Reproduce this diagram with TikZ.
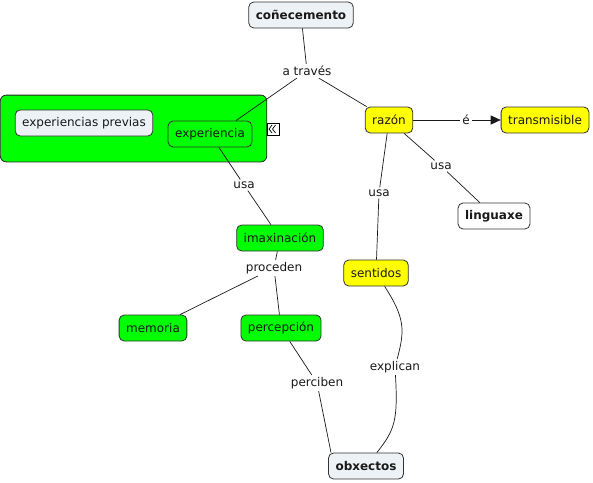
\documentclass[tikz,border=0pt]{standalone}
\usepackage{fontspec}
\setmainfont{DejaVu Sans}
\usetikzlibrary{arrows.meta,fit,backgrounds}

\definecolor{cmapgreen}{RGB}{0,255,0}
\definecolor{cmapyellow}{RGB}{255,255,0}
\definecolor{cmapgrey}{RGB}{236,242,245}

\tikzset{
  concept/.style={draw=black!80, line width=0.8pt, rounded corners=5pt, minimum height=26pt,
    inner xsep=7pt, font=\fontsize{12}{14}\selectfont, text=black!90},
  greenc/.style={concept, fill=cmapgreen},
  yellowc/.style={concept, fill=cmapyellow},
  greyc/.style={concept, fill=cmapgrey},
  whitec/.style={concept, fill=white},
  boldc/.style={font=\fontsize{12}{14}\selectfont\bfseries},
  linkl/.style={fill=white, inner sep=2pt, font=\fontsize{12}{14}\selectfont, text=black!90},
  conn/.style={draw=black!90, line width=0.7pt}
}

\begin{document}
\begin{tikzpicture}[x=1pt, y=-1pt]
  \useasboundingbox (0,0) rectangle (593,482);

  % concepts
  \node[greyc, boldc] (conecemento) at (301,15) {coñecemento};
  \node[greyc] (expprevias) at (84,123) {experiencias previas};
  \node[greenc] (experiencia) at (210,134) {experiencia};
  \node[yellowc] (razon) at (389,120) {razón};
  \node[yellowc] (transmisible) at (545,120) {transmisible};
  \node[whitec, boldc] (linguaxe) at (494,216) {linguaxe};
  \node[greenc] (imaxinacion) at (280,238) {imaxinación};
  \node[yellowc] (sentidos) at (376,273) {sentidos};
  \node[greenc] (memoria) at (153,328) {memoria};
  \node[greenc] (percepcion) at (281,328) {percepción};
  \node[greyc, boldc] (obxectos) at (366,466) {obxectos};

  % group box behind experiencia
  \begin{scope}[on background layer]
    \node[draw=black!85, line width=0.8pt, fill=cmapgreen, rounded corners=6pt, inner sep=14.5pt,
      fit=(expprevias) (experiencia)] (grupo) {};
  \end{scope}

  % collapse icon
  \node[draw=black, line width=0.6pt, fill=white, minimum size=12pt, inner sep=0pt] (pechar) at (273.5,129) {};
  \draw[line width=0.7pt] ([xshift=-0.5pt]pechar.center) ++(-1,-4) -- ++(-3,4) -- ++(3,4)
    ([xshift=3pt]pechar.center) ++(-1,-4) -- ++(-3,4) -- ++(3,4);

  % linking phrases
  \node[linkl] (atraves) at (307,71) {a través};
  \node[linkl] (e) at (466,120) {é};
  \node[linkl] (usaR) at (441,166) {usa};
  \node[linkl] (usaS) at (379,193) {usa};
  \node[linkl] (usaE) at (244,185) {usa};
  \node[linkl] (proceden) at (274,268) {proceden};
  \node[linkl] (perciben) at (317,383) {perciben};
  \node[linkl] (explican) at (395,367) {explican};

  % connectors
  \draw[conn] (conecemento) -- (atraves);
  \draw[conn] (atraves) -- ([xshift=26pt]experiencia.north);
  \draw[conn] (atraves) -- (razon);
  \draw[conn] (razon) -- (e);
  \draw[conn, -{Triangle[length=10pt, width=9pt]}] (e) -- (transmisible);
  \draw[conn] (razon) -- (usaR);
  \draw[conn] (usaR) -- (linguaxe);
  \draw[conn] (razon) -- (usaS);
  \draw[conn] (usaS) -- (sentidos);
  \draw[conn] (experiencia) -- (usaE);
  \draw[conn] (usaE) -- (imaxinacion);
  \draw[conn] (imaxinacion) -- (proceden);
  \draw[conn] (proceden) -- (memoria);
  \draw[conn] (proceden) -- (percepcion);
  \draw[conn] (percepcion) -- (perciben);
  \draw[conn] (perciben) -- ([xshift=-35pt]obxectos.north);
  \draw[conn] (sentidos) .. controls (405,318) and (405,330) .. (explican);
  \draw[conn] (explican) .. controls (398,420) and (395,430) .. (obxectos);
\end{tikzpicture}
\end{document}
